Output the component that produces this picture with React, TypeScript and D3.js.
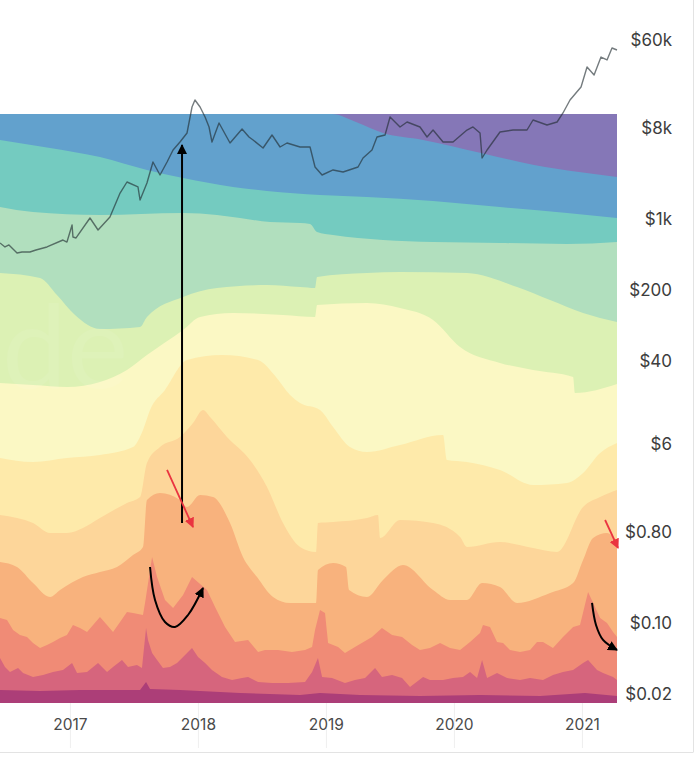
import React from 'react';
import * as d3 from 'd3';

type P = [number, number];

// ---- axis ticks ----
const yearTicks = [2017, 2018, 2019, 2020, 2021];
const priceTicks = [60000, 8000, 1000, 200, 40, 6, 0.8, 0.1, 0.02];
const priceTickLabels = ['$60k', '$8k', '$1k', '$200', '$40', '$6', '$0.80', '$0.10', '$0.02'];

// ---- age bands (outermost first) ----
const bandLabels = ['>10y', '7y-10y', '5y-7y', '3y-5y', '2y-3y', '1y-2y', '6m-12m', '3m-6m', '1m-3m', '1w-1m', '1d-1w', '24h'];
const bandColors = ['#8577b7', '#62a1cd', '#74cbc0', '#b1dfbe', '#dcf1b4', '#fbf8c4', '#feeaaa', '#fdd69a', '#f8b27d', '#f08b76', '#d6657d', '#ac3e78'];

// cumulative share of supply (%) younger than each age limit: [year, %]
const underAll: P[] = [[2016.45, 100], [2021.27, 100]];
const under10y: P[] = [[2016.45, 100], [2019.044, 100], [2019.231, 98.64], [2019.442, 96.77], [2019.755, 95.59], [2020.208, 93.38], [2020.622, 91.34], [2020.973, 90.15], [2021.27, 89.3]];
const under7y: P[] = [[2016.45, 95.59], [2016.841, 94.23], [2017.231, 92.7], [2017.598, 90.49], [2017.88, 89.13], [2018.27, 87.61], [2018.536, 86.93], [2018.95, 86.25], [2019.317, 85.91], [2019.833, 85.23], [2020.356, 84.21], [2020.88, 83.19], [2021.27, 82.34]];
const under5y: P[] = [[2016.45, 84.21], [2016.708, 83.36], [2017.231, 82.85], [2017.88, 83.19], [2018.145, 82.85], [2018.325, 82.34], [2018.559, 81.66], [2018.794, 81.49], [2018.872, 81.32], [2018.927, 79.97], [2019.052, 79.46], [2019.442, 78.61], [2019.833, 78.27], [2020.356, 78.1], [2020.88, 77.93], [2021.27, 78.27]];
const under3y: P[] = [[2016.45, 73.01], [2016.763, 72.16], [2016.895, 69.27], [2017.036, 65.87], [2017.231, 63.5], [2017.544, 63.84], [2017.598, 65.54], [2017.88, 68.93], [2018.145, 70.46], [2018.536, 70.97], [2018.794, 70.63], [2018.911, 70.46], [2018.927, 72.33], [2019.317, 73.01], [2019.575, 73.18], [2020.098, 73.01], [2020.489, 70.63], [2020.747, 68.42], [2021.005, 66.21], [2021.27, 64.69]];
const under2y: P[] = [[2016.45, 54.33], [2016.708, 53.99], [2016.973, 53.65], [2017.231, 54.5], [2017.442, 56.54], [2017.598, 59.08], [2017.88, 63.33], [2018.013, 65.54], [2018.27, 66.21], [2018.661, 65.87], [2018.911, 65.54], [2018.927, 67.57], [2019.317, 67.91], [2019.575, 67.06], [2019.833, 65.03], [2020.044, 60.44], [2020.356, 57.73], [2020.614, 56.54], [2020.927, 55.35], [2020.942, 52.63], [2021.27, 54.16]];
const under12m: P[] = [[2016.45, 41.6], [2016.708, 40.92], [2016.973, 41.6], [2017.231, 42.11], [2017.489, 43.46], [2017.567, 46.35], [2017.622, 49.75], [2017.739, 53.14], [2017.911, 58.23], [2018.184, 59.08], [2018.466, 58.23], [2018.606, 55.35], [2018.716, 52.29], [2018.794, 50.93], [2018.95, 49.75], [2019.052, 46.86], [2019.184, 43.46], [2019.317, 42.61], [2019.575, 43.8], [2019.911, 45.5], [2019.942, 41.26], [2020.098, 40.92], [2020.356, 39.56], [2020.614, 37.01], [2020.88, 37.35], [2021.005, 39.05], [2021.138, 42.45], [2021.27, 44.14]];
const under6m: P[] = [[2016.45, 31.92], [2016.583, 31.41], [2016.708, 30.56], [2016.841, 28.86], [2016.973, 28.86], [2017.098, 29.71], [2017.231, 31.41], [2017.442, 33.96], [2017.544, 34.97], [2017.598, 40.75], [2017.7, 43.46], [2017.856, 45.16], [2017.958, 47.54], [2018.036, 49.75], [2018.091, 48.56], [2018.223, 45.16], [2018.403, 41.26], [2018.536, 36.67], [2018.661, 30.56], [2018.794, 26.49], [2018.919, 25.64], [2018.934, 30.56], [2019.052, 30.73], [2019.317, 31.41], [2019.403, 31.92], [2019.419, 28.01], [2019.575, 31.07], [2019.833, 30.56], [2020.044, 28.18], [2020.098, 26.49], [2020.356, 27.33], [2020.614, 26.32], [2020.802, 25.64], [2021.005, 33.28], [2021.138, 34.97], [2021.27, 36.16]];
const under3m: P[] = [[2016.45, 23.94], [2016.583, 23.09], [2016.708, 20.37], [2016.841, 18.0], [2016.919, 19.19], [2017.098, 21.39], [2017.231, 22.24], [2017.364, 23.09], [2017.489, 25.13], [2017.567, 26.49], [2017.598, 34.47], [2017.7, 35.65], [2017.856, 34.47], [2017.911, 33.28], [2018.013, 35.31], [2018.114, 34.97], [2018.247, 30.56], [2018.348, 24.79], [2018.458, 21.39], [2018.583, 18.0], [2018.716, 16.98], [2018.919, 16.98], [2018.934, 22.58], [2019.052, 23.77], [2019.153, 23.09], [2019.177, 19.19], [2019.317, 18.0], [2019.442, 20.88], [2019.598, 23.43], [2019.833, 19.19], [2019.966, 17.49], [2020.098, 17.49], [2020.216, 20.37], [2020.356, 19.69], [2020.489, 16.98], [2020.747, 18.68], [2020.927, 20.37], [2021.005, 24.28], [2021.083, 28.01], [2021.192, 28.86], [2021.27, 27.16]];
const under1m: P[] = [[2016.45, 14.43], [2016.505, 14.09], [2016.552, 12.39], [2016.606, 11.55], [2016.661, 11.21], [2016.708, 10.19], [2016.763, 9.34], [2016.817, 9.85], [2016.864, 10.36], [2016.919, 11.04], [2016.973, 11.55], [2017.02, 13.24], [2017.075, 12.73], [2017.13, 12.05], [2017.177, 13.24], [2017.231, 14.6], [2017.286, 13.24], [2017.333, 12.05], [2017.388, 13.75], [2017.442, 15.45], [2017.489, 15.28], [2017.567, 14.94], [2017.583, 16.98], [2017.638, 24.79], [2017.677, 21.39], [2017.739, 17.49], [2017.802, 16.13], [2017.88, 18.34], [2017.95, 21.39], [2018.067, 19.19], [2018.13, 16.3], [2018.208, 12.9], [2018.286, 10.36], [2018.388, 10.7], [2018.466, 8.66], [2018.52, 9.0], [2018.622, 9.0], [2018.731, 8.66], [2018.833, 9.0], [2018.888, 9.51], [2018.911, 12.39], [2018.95, 15.79], [2018.989, 15.28], [2019.013, 10.19], [2019.091, 9.51], [2019.145, 8.49], [2019.223, 9.51], [2019.356, 11.21], [2019.434, 12.73], [2019.513, 11.55], [2019.591, 11.21], [2019.669, 9.85], [2019.731, 9.0], [2019.809, 9.34], [2019.888, 10.19], [2019.966, 9.34], [2020.044, 9.0], [2020.122, 10.36], [2020.2, 11.88], [2020.223, 13.24], [2020.278, 12.9], [2020.333, 10.36], [2020.38, 10.19], [2020.434, 9.0], [2020.513, 8.66], [2020.591, 9.0], [2020.645, 10.36], [2020.692, 10.36], [2020.77, 9.34], [2020.848, 11.21], [2020.927, 12.9], [2020.981, 13.24], [2021.044, 18.85], [2021.138, 14.43], [2021.192, 13.58], [2021.239, 12.05], [2021.27, 11.21]];
const under1w: P[] = [[2016.45, 7.64], [2016.489, 6.11], [2016.528, 5.26], [2016.591, 5.94], [2016.63, 5.09], [2016.708, 4.41], [2016.786, 4.75], [2016.864, 5.26], [2016.942, 5.6], [2017.013, 6.79], [2017.052, 5.09], [2017.13, 5.26], [2017.216, 6.79], [2017.286, 5.26], [2017.333, 6.11], [2017.403, 7.3], [2017.45, 6.11], [2017.52, 6.45], [2017.559, 5.94], [2017.591, 12.73], [2017.606, 10.7], [2017.638, 8.49], [2017.677, 7.3], [2017.723, 5.94], [2017.778, 6.11], [2017.833, 6.79], [2017.88, 7.81], [2017.95, 9.34], [2017.997, 7.81], [2018.052, 6.79], [2018.106, 5.6], [2018.184, 4.41], [2018.263, 3.9], [2018.341, 4.24], [2018.388, 4.41], [2018.466, 3.57], [2018.575, 3.4], [2018.7, 3.4], [2018.833, 3.57], [2018.888, 5.26], [2018.934, 7.64], [2018.966, 4.41], [2019.044, 4.24], [2019.145, 3.4], [2019.223, 3.9], [2019.302, 4.24], [2019.38, 5.94], [2019.434, 4.41], [2019.513, 4.75], [2019.591, 4.24], [2019.653, 2.72], [2019.755, 4.41], [2019.809, 3.9], [2019.911, 3.9], [2019.989, 4.24], [2020.067, 4.41], [2020.122, 5.26], [2020.177, 4.24], [2020.216, 7.3], [2020.255, 4.24], [2020.333, 5.09], [2020.411, 4.24], [2020.513, 3.9], [2020.591, 4.24], [2020.692, 3.9], [2020.77, 4.75], [2020.848, 5.26], [2020.927, 5.6], [2021.005, 6.79], [2021.044, 7.3], [2021.114, 5.6], [2021.161, 5.09], [2021.239, 4.41], [2021.27, 3.9]];
const under24h: P[] = [[2016.45, 2.21], [2016.763, 2.04], [2017.075, 2.21], [2017.388, 2.21], [2017.544, 2.21], [2017.591, 3.57], [2017.622, 2.38], [2017.856, 2.21], [2018.013, 2.04], [2018.325, 1.7], [2018.794, 1.36], [2018.95, 1.7], [2019.263, 1.36], [2019.731, 1.19], [2020.2, 1.36], [2020.669, 1.19], [2021.02, 1.7], [2021.27, 1.19]];

const bandSeries: P[][] = [underAll, under10y, under7y, under5y, under3y, under2y, under12m, under6m, under3m, under1m, under1w, under24h];

// ---- BTC price [year, USD] ----
const price: P[] = [[2016.45, 586], [2016.489, 535], [2016.52, 560], [2016.583, 466], [2016.622, 477], [2016.684, 477], [2016.731, 499], [2016.817, 535], [2016.942, 627], [2016.973, 599], [2017.013, 883], [2017.02, 672], [2017.044, 657], [2017.153, 1036], [2017.216, 788], [2017.309, 1060], [2017.388, 1831], [2017.442, 2354], [2017.528, 2101], [2017.544, 1561], [2017.598, 2301], [2017.645, 3714], [2017.7, 2762], [2017.755, 3714], [2017.802, 4883], [2017.856, 5861], [2017.911, 7195], [2017.95, 13020], [2017.973, 15277], [2018.013, 13020], [2018.052, 10364], [2018.083, 8252], [2018.106, 5861], [2018.161, 9040], [2018.247, 5728], [2018.341, 7882], [2018.395, 6568], [2018.427, 6134], [2018.505, 5111], [2018.575, 6875], [2018.638, 5229], [2018.692, 5728], [2018.794, 5229], [2018.872, 5229], [2018.911, 3314], [2018.966, 2762], [2019.052, 3096], [2019.13, 2958], [2019.247, 3314], [2019.286, 4069], [2019.356, 4883], [2019.395, 6568], [2019.458, 6875], [2019.497, 10364], [2019.575, 8252], [2019.63, 9248], [2019.731, 8252], [2019.786, 6568], [2019.833, 7705], [2019.911, 5861], [2019.989, 5861], [2020.098, 7705], [2020.145, 8252], [2020.2, 7195], [2020.216, 4069], [2020.255, 4883], [2020.356, 7362], [2020.458, 7705], [2020.567, 7705], [2020.614, 9679], [2020.723, 8637], [2020.802, 9248], [2020.848, 11357], [2020.903, 15277], [2020.989, 20548], [2021.036, 32416], [2021.091, 27013], [2021.145, 40713], [2021.192, 38030], [2021.231, 49998], [2021.27, 47770]];

// ---- hand-drawn annotations, in [year, % of supply] ----
const annotVertical: P[] = [[2017.872, 30.56], [2017.872, 94.74]];
const annotRedLeft: P[] = [[2017.755, 39.56], [2017.958, 29.88]];
const annotCurveLeft: P[] = [[2017.622, 23.09], [2017.661, 17.49], [2017.739, 13.75], [2017.817, 12.9], [2017.919, 14.94], [2018.036, 19.52]];
const annotRedRight: P[] = [[2021.177, 31.07], [2021.278, 26.32]];
const annotCurveRight: P[] = [[2021.075, 16.98], [2021.106, 13.24], [2021.161, 10.7], [2021.27, 9.0]];

export default function App() {
  const W = 697;
  const H = 765;
  const plotRight = 617;
  const x = d3.scaleLinear().domain([2016.45, 2021.27]).range([0, plotRight]);
  const yPct = d3.scaleLinear().domain([0, 100]).range([703, 114]);
  const yPrice = d3.scaleLog().domain([0.02, 60000]).range([694, 40]);

  const smoothArea = d3.area<P>().x((d) => x(d[0])).y0(yPct(0)).y1((d) => yPct(d[1])).curve(d3.curveMonotoneX);
  const sharpArea = d3.area<P>().x((d) => x(d[0])).y0(yPct(0)).y1((d) => yPct(d[1])).curve(d3.curveLinear);
  const priceLine = d3.line<P>().x((d) => x(d[0])).y((d) => yPrice(d[1])).curve(d3.curveLinear);
  const annLine = d3.line<P>().x((d) => x(d[0])).y((d) => yPct(d[1]));
  const annCurve = d3.line<P>().x((d) => x(d[0])).y((d) => yPct(d[1])).curve(d3.curveCatmullRom);

  const font = "Inter, 'Liberation Sans', Arial, sans-serif";

  return (
    <div style={{ position: 'absolute', left: 0, top: 0, width: W, height: H, background: '#fff' }}>
      <svg width={W} height={H} style={{ display: 'block' }}>
        <defs>
          <marker id="ahBlack" viewBox="0 0 10 10" refX="9" refY="5" markerWidth="10" markerHeight="10" markerUnits="userSpaceOnUse" orient="auto">
            <path d="M0,0 L10,5 L0,10 z" fill="#000" />
          </marker>
          <marker id="ahRed" viewBox="0 0 10 10" refX="9" refY="5" markerWidth="10" markerHeight="10" markerUnits="userSpaceOnUse" orient="auto">
            <path d="M0,0 L10,5 L0,10 z" fill="#ea3440" />
          </marker>
          <clipPath id="plotClip">
            <rect x={0} y={0} width={plotRight} height={704} />
          </clipPath>
        </defs>

        {/* year grid lines below plot */}
        {yearTicks.map((t) => (
          <line key={'g' + t} x1={x(t)} x2={x(t)} y1={703} y2={748} stroke="#efefef" strokeWidth={1} />
        ))}

        {/* card border */}
        <line x1={693.5} x2={693.5} y1={0} y2={752} stroke="#e3e3e3" strokeWidth={1} />
        <line x1={0} x2={693.5} y1={752.5} y2={752.5} stroke="#e3e3e3" strokeWidth={1} />

        {/* age bands */}
        <g clipPath="url(#plotClip)">
          {bandSeries.map((s, i) => (
            <path key={bandLabels[i]} d={(i >= 9 ? sharpArea : smoothArea)(s) || ''} fill={bandColors[i]} />
          ))}
          {/* faint watermark */}
          <text x={2} y={388} textAnchor="start" fontFamily="Lato, 'Open Sans', sans-serif" fontSize={116} fill="#ffffff" fillOpacity={0.07}>
            de
          </text>
        </g>

        {/* price */}
        <path d={priceLine(price) || ''} fill="none" stroke="#1e2a2e" strokeOpacity={0.62} strokeWidth={1.4} strokeLinejoin="round" />

        {/* annotations */}
        <path d={annLine(annotVertical) || ''} stroke="#000" strokeWidth={2} fill="none" markerEnd="url(#ahBlack)" />
        <path d={annLine(annotRedLeft) || ''} stroke="#ea3440" strokeWidth={1.8} fill="none" markerEnd="url(#ahRed)" />
        <path d={annCurve(annotCurveLeft) || ''} stroke="#000" strokeWidth={2} fill="none" markerEnd="url(#ahBlack)" />
        <path d={annLine(annotRedRight) || ''} stroke="#ea3440" strokeWidth={1.8} fill="none" markerEnd="url(#ahRed)" />
        <path d={annCurve(annotCurveRight) || ''} stroke="#000" strokeWidth={2} fill="none" markerEnd="url(#ahBlack)" />

        {/* price axis labels */}
        {priceTicks.map((t, i) => (
          <text key={'p' + t} x={672} y={yPrice(t)} dy="0.35em" textAnchor="end" fontFamily={font} fontSize={17} fill="#3d3d3d">
            {priceTickLabels[i]}
          </text>
        ))}

        {/* year labels */}
        {yearTicks.map((t) => (
          <text key={'y' + t} x={x(t)} y={725} dy="0.35em" textAnchor="middle" fontFamily={font} fontSize={15.5} fill="#4a4a4a">
            {t}
          </text>
        ))}
      </svg>
    </div>
  );
}
